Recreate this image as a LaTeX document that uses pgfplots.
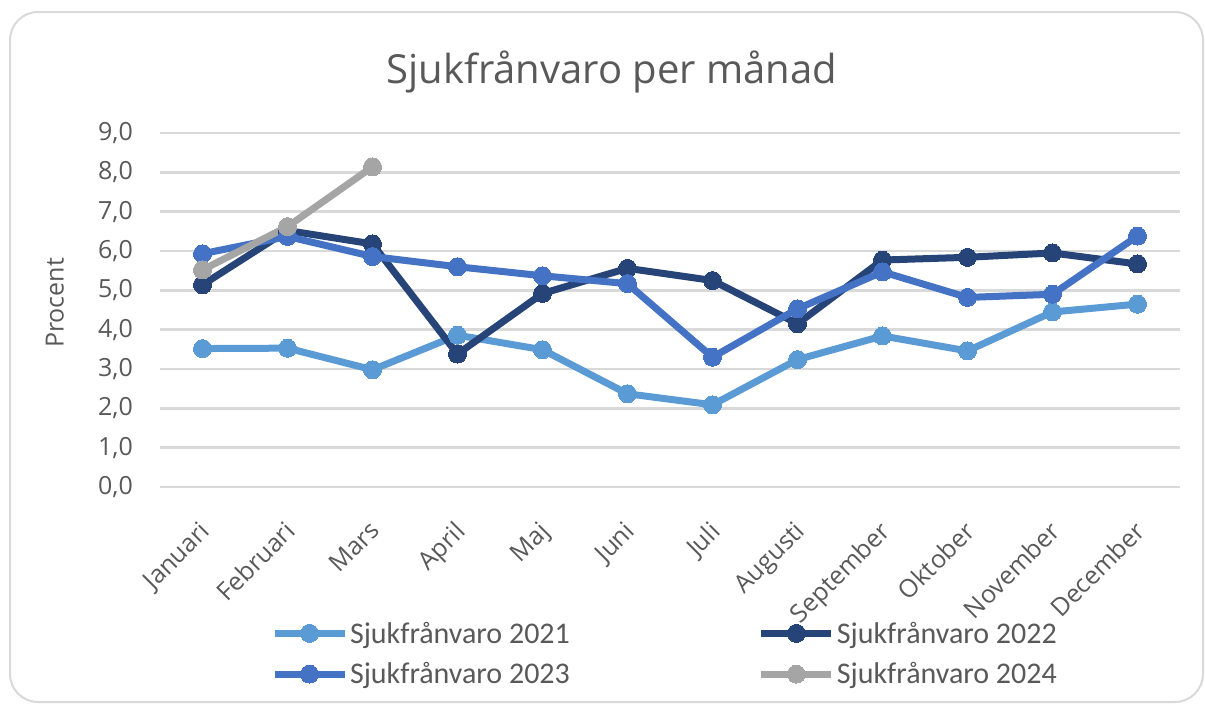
\documentclass[border=0pt]{standalone}
\usepackage{pgfplots}
\pgfplotsset{compat=1.18}
\usepackage{fontspec}
\setmainfont{Open Sans}
\newfontfamily\legfont{Carlito}
\definecolor{txt}{HTML}{595959}
\definecolor{gridc}{HTML}{D9D9D9}
\definecolor{cA}{HTML}{5B9BD5}
\definecolor{cB}{HTML}{264478}
\definecolor{cC}{HTML}{4472C4}
\definecolor{cD}{HTML}{A5A5A5}
\begin{document}
\begin{tikzpicture}
\useasboundingbox (0pt,0pt) rectangle (1205pt,-704pt);
\fill[white] (0pt,0pt) rectangle (1205pt,-704pt);
\draw[gridc, line width=2pt, rounded corners=28pt] (10pt,-12pt) rectangle (1203pt,-702pt);
\node[text=txt, font=\fontsize{40}{48}\selectfont] at (612pt,-72pt) {Sjukfrånvaro per månad};
\begin{axis}[
  at={(160pt,-487pt)}, anchor=south west,
  scale only axis, width=1020pt, height=354pt,
  xmin=-0.5, xmax=11.5, ymin=0, ymax=9,
  axis line style={draw=none},
  major tick length=0pt,
  ytick={0,1,...,9},
  xtick={0,...,11},
  xticklabels={Januari,Februari,Mars,April,Maj,Juni,Juli,Augusti,September,Oktober,November,December},
  ymajorgrids, grid style={gridc, line width=2.5pt},
  /pgf/number format/use comma, /pgf/number format/fixed, /pgf/number format/fixed zerofill, /pgf/number format/precision=1, /pgf/number format/assume math mode=true,
  yticklabel style={text=txt, font=\fontsize{25}{30}\selectfont, anchor=east, inner sep=0pt, xshift=-27pt},
  xticklabel style={text=txt, font=\fontsize{25}{30}\selectfont, rotate=45, anchor=north east, inner sep=0pt, xshift=-26pt, yshift=-20pt},
  ylabel={Procent},
  ylabel style={text=txt, font=\fontsize{25}{30}\selectfont, at={(axis description cs:-0.103,0.52)}, anchor=center},
  every axis plot/.append style={line width=7pt, mark=*, mark size=9pt, mark options={solid, line width=0pt}},
  legend columns=2,
  legend cell align=left,
  legend style={at={(axis description cs:0.495,-0.375)}, anchor=north, draw=none, fill=none,
    font=\legfont\fontsize{30}{35}\selectfont, text=txt, inner sep=0pt, row sep=14pt,
    /tikz/column 2/.style={column sep=186pt}},
  legend image code/.code={\draw[mark repeat=2, mark phase=2, mark size=9pt, #1] plot coordinates {(0pt,0pt) (35pt,0pt) (70pt,0pt)};},
]
\addplot[color=cA] coordinates {(0,3.52) (1,3.53) (2,2.98) (3,3.86) (4,3.49) (5,2.37) (6,2.09) (7,3.24) (8,3.84) (9,3.46) (10,4.45) (11,4.65)};
\addlegendentry{Sjukfrånvaro 2021}
\addplot[color=cB] coordinates {(0,5.14) (1,6.52) (2,6.18) (3,3.38) (4,4.92) (5,5.56) (6,5.25) (7,4.15) (8,5.77) (9,5.84) (10,5.95) (11,5.67)};
\addlegendentry{Sjukfrånvaro 2022}
\addplot[color=cC] coordinates {(0,5.93) (1,6.37) (2,5.86) (3,5.6) (4,5.37) (5,5.17) (6,3.3) (7,4.53) (8,5.47) (9,4.82) (10,4.9) (11,6.38)};
\addlegendentry{Sjukfrånvaro 2023}
\addplot[color=cD] coordinates {(0,5.52) (1,6.62) (2,8.14)};
\addlegendentry{Sjukfrånvaro 2024}
\end{axis}
\end{tikzpicture}
\end{document}
